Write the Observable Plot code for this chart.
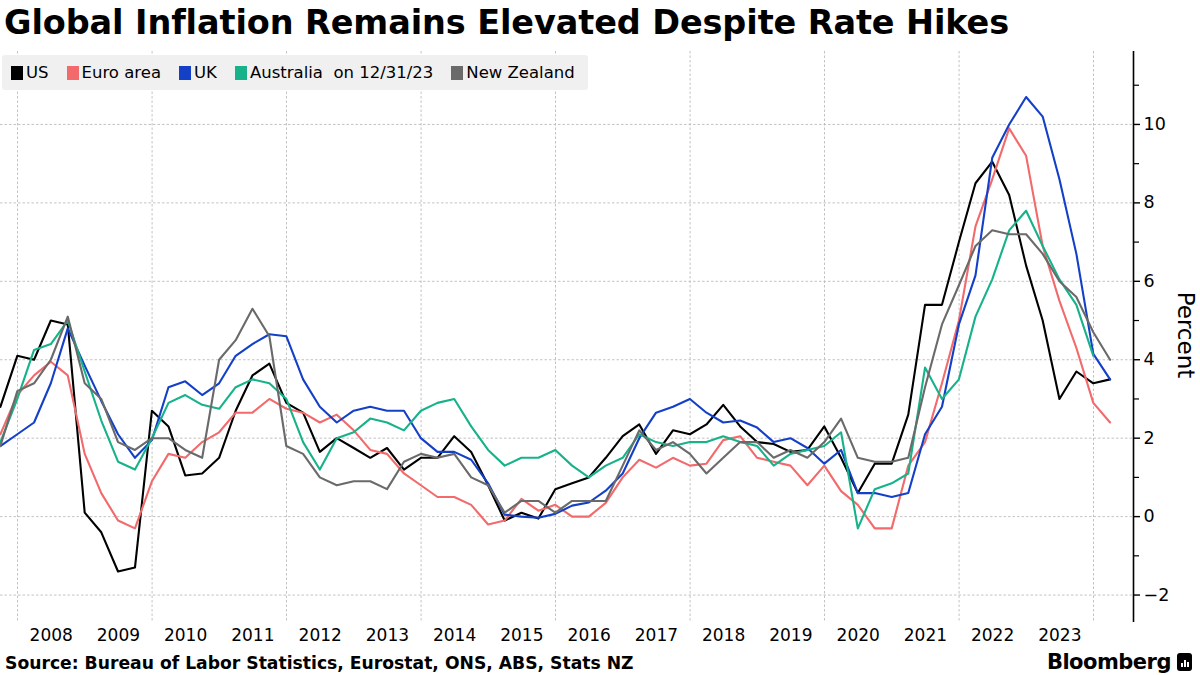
<!DOCTYPE html>
<html><head><meta charset="utf-8">
<script src="https://cdn.jsdelivr.net/npm/d3@7"></script>
<script src="https://cdn.jsdelivr.net/npm/@observablehq/plot@0.6"></script>
<style>
body{margin:0;background:#fff;font-family:"DejaVu Sans",sans-serif;}
#wrap{position:relative;width:1200px;height:675px;overflow:hidden;background:#fff;}
#title{height:46px;padding-left:4px;font-size:33.5px;font-weight:bold;line-height:46px;color:#000;white-space:nowrap;letter-spacing:-0.1px;}
#chart{position:relative;height:605px;}
#chart svg{display:block;}
#legend{position:absolute;left:2px;top:9px;width:586px;height:35px;background:#f0f0f0;border-radius:3px;display:flex;align-items:center;font-size:16.5px;color:#000;white-space:pre;}
#legend .it{display:flex;align-items:center;margin-left:9px;margin-right:9px;}
#legend .sw{width:12px;height:14px;margin-right:3px;}
#ylab{position:absolute;left:1136px;top:276px;width:100px;height:26px;font-size:23px;transform:rotate(90deg);transform-origin:center;text-align:center;line-height:26px;white-space:nowrap;}
#foot{height:24px;position:relative;}
#source{position:absolute;left:5px;top:0;font-size:17.2px;font-weight:bold;line-height:24px;white-space:nowrap;}
#logo{position:absolute;right:8px;top:-2px;display:flex;align-items:center;font-size:21px;font-weight:bold;letter-spacing:-0.5px;line-height:26px;}
#logo .ic{width:15px;height:18px;background:#000;border-radius:3px;margin-left:6px;position:relative;}
#logo .ic i{position:absolute;bottom:4px;width:2px;background:#fff;}
</style></head>
<body><div id="wrap">
<div id="title">Global Inflation Remains Elevated Despite Rate Hikes</div>
<div id="chart"><div id="legend"></div><div id="ylab">Percent</div></div>
<div id="foot"><div id="source">Source: Bureau of Labor Statistics, Eurostat, ONS, ABS, Stats NZ</div><div id="logo">Bloomberg<div class="ic"><i style="left:4px;height:4px"></i><i style="left:7px;height:7px"></i><i style="left:10px;height:5px"></i></div></div></div>
</div>
<script>
// Quarterly observations, Sep 2007 .. Mar 2024 (quarter-end)
const firstQuarterEnd = "2007-09-30";
const nQuarters = 67;
const seriesNames = ["US", "Euro area", "UK", "Australia", "New Zealand"];
const legendLabels = ["US", "Euro area", "UK", "Australia  on 12/31/23", "New Zealand"];
const seriesColors = ["#000000", "#f26a6b", "#1440c8", "#17b28a", "#6a6a6a"];

const us = [2.8,4.1,4.0,5.0,4.9,0.1,-0.4,-1.4,-1.3,2.7,2.3,1.05,1.1,1.5,2.7,3.6,3.9,2.9,2.65,1.65,2.0,1.75,1.5,1.75,1.2,1.5,1.5,2.05,1.65,0.8,-0.1,0.1,-0.05,0.7,0.85,1.0,1.5,2.05,2.35,1.6,2.2,2.1,2.35,2.85,2.3,1.9,1.85,1.65,1.7,2.3,1.5,0.6,1.35,1.35,2.6,5.4,5.4,7.0,8.5,9.05,8.2,6.4,5.0,3.0,3.7,3.4,3.5];
const euroArea = [2.1,3.1,3.6,3.95,3.6,1.6,0.6,-0.1,-0.3,0.9,1.6,1.5,1.9,2.15,2.65,2.65,3.0,2.75,2.65,2.4,2.6,2.2,1.7,1.6,1.1,0.8,0.5,0.5,0.3,-0.2,-0.1,0.45,0.15,0.3,0.0,0.0,0.35,1.0,1.45,1.25,1.5,1.3,1.35,1.95,2.05,1.5,1.4,1.3,0.8,1.3,0.65,0.3,-0.3,-0.3,1.3,1.9,3.4,5.0,7.4,8.6,9.9,9.2,6.9,5.5,4.3,2.9,2.4];
const uk = [1.8,2.1,2.4,3.4,4.8,3.85,2.95,2.1,1.5,1.95,3.3,3.45,3.1,3.4,4.1,4.4,4.65,4.6,3.5,2.8,2.4,2.7,2.8,2.7,2.7,2.0,1.65,1.65,1.45,0.85,0.05,0.0,-0.03,0.07,0.28,0.36,0.66,1.1,2.0,2.65,2.8,3.0,2.65,2.4,2.45,2.27,1.9,2.0,1.75,1.35,1.7,0.6,0.6,0.5,0.6,2.1,2.8,4.9,6.15,9.15,10.0,10.7,10.2,8.6,6.7,4.15,3.5];
const australia = [1.9,3.0,4.25,4.4,5.0,3.7,2.45,1.4,1.2,2.0,2.9,3.1,2.85,2.75,3.3,3.5,3.4,3.0,1.9,1.2,2.0,2.15,2.5,2.4,2.2,2.7,2.9,3.0,2.3,1.7,1.3,1.5,1.5,1.7,1.3,1.0,1.3,1.5,2.1,1.9,1.8,1.9,1.9,2.05,1.9,1.8,1.3,1.6,1.7,1.8,2.15,-0.3,0.7,0.85,1.1,3.8,3.0,3.5,5.1,6.05,7.3,7.8,6.9,6.05,5.4,4.1,null];
const newZealand = [1.8,3.2,3.4,4.0,5.1,3.4,3.0,1.9,1.7,2.0,2.0,1.7,1.5,4.0,4.5,5.3,4.6,1.8,1.6,1.0,0.8,0.9,0.9,0.7,1.4,1.6,1.5,1.6,1.0,0.8,0.1,0.4,0.4,0.1,0.4,0.4,0.4,1.3,2.2,1.7,1.9,1.6,1.1,1.5,1.9,1.9,1.5,1.7,1.5,1.9,2.5,1.5,1.4,1.4,1.5,3.3,4.9,5.9,6.9,7.3,7.2,7.2,6.7,6.0,5.6,4.7,4.0];

const yMajorTicks = [-2,0,2,4,6,8,10];
const yMinorTicks = [-1,1,3,5,7,9,11];
const gridYears = [2008,2010,2012,2014,2016,2018,2020,2022,2024];
const labelYears = d3.range(2008, 2024);

const allValues = [us, euroArea, uk, australia, newZealand];
const q0 = d3.utcDay.offset(new Date(firstQuarterEnd + "T00:00:00Z"), 1);
const dates = d3.range(nQuarters).map(i => d3.utcDay.offset(d3.utcMonth.offset(q0, 3 * i), -1));
const rows = [];
seriesNames.forEach((s, k) => allValues[k].forEach((v, i) => { if (v != null) rows.push({series: s, date: dates[i], value: v}); }));

const Y = 365.25 * 864e5;
const t2008 = Date.UTC(2008, 0, 1);
const xDomain = [new Date(t2008 - 17 / 67.25 * Y), new Date(t2008 + 1116 / 67.25 * Y)];
const utc = y => new Date(Date.UTC(y, 0, 1));
const mid = y => new Date(Date.UTC(y, 6, 2));

const chart = Plot.plot({
  width: 1200, height: 605,
  marginLeft: 0, marginRight: 67, marginTop: 5, marginBottom: 29,
  style: {fontFamily: "DejaVu Sans, sans-serif", background: "transparent", overflow: "visible"},
  x: {type: "utc", domain: xDomain, axis: null},
  y: {domain: [-2.7, 11.86], axis: null},
  color: {domain: seriesNames, range: seriesColors},
  marks: [
    Plot.gridX(gridYears.map(utc), {stroke: "#b4b4b4", strokeOpacity: 1, strokeWidth: 0.8, strokeDasharray: "2.5,2"}),
    Plot.gridY(yMajorTicks, {stroke: "#b4b4b4", strokeOpacity: 1, strokeWidth: 0.8, strokeDasharray: "2.5,2"}),
    Plot.lineY(rows, {x: "date", y: "value", z: "series", stroke: "series", strokeWidth: 2.1}),
    Plot.ruleX([xDomain[1]], {stroke: "#000", strokeWidth: 1.6}),
    Plot.axisY(yMajorTicks, {anchor: "right", label: null, tickSize: 6, tickPadding: 4, fontSize: 17.5, color: "#000", strokeWidth: 1.4}),
    Plot.axisY(yMinorTicks, {anchor: "right", label: null, tickSize: 5, tickFormat: () => "", strokeWidth: 1.2}),
    Plot.axisX(labelYears.map(mid), {anchor: "bottom", label: null, tickSize: 0, tickPadding: 6, fontSize: 17, tickFormat: d3.utcFormat("%Y"), color: "#000"})
  ]
});
document.getElementById("chart").prepend(chart);

const legend = document.getElementById("legend");
legendLabels.forEach((lab, k) => {
  const it = document.createElement("div"); it.className = "it";
  const sw = document.createElement("div"); sw.className = "sw"; sw.style.background = seriesColors[k];
  const tx = document.createElement("span"); tx.textContent = lab;
  it.append(sw, tx); legend.append(it);
});
</script>
</body></html>
